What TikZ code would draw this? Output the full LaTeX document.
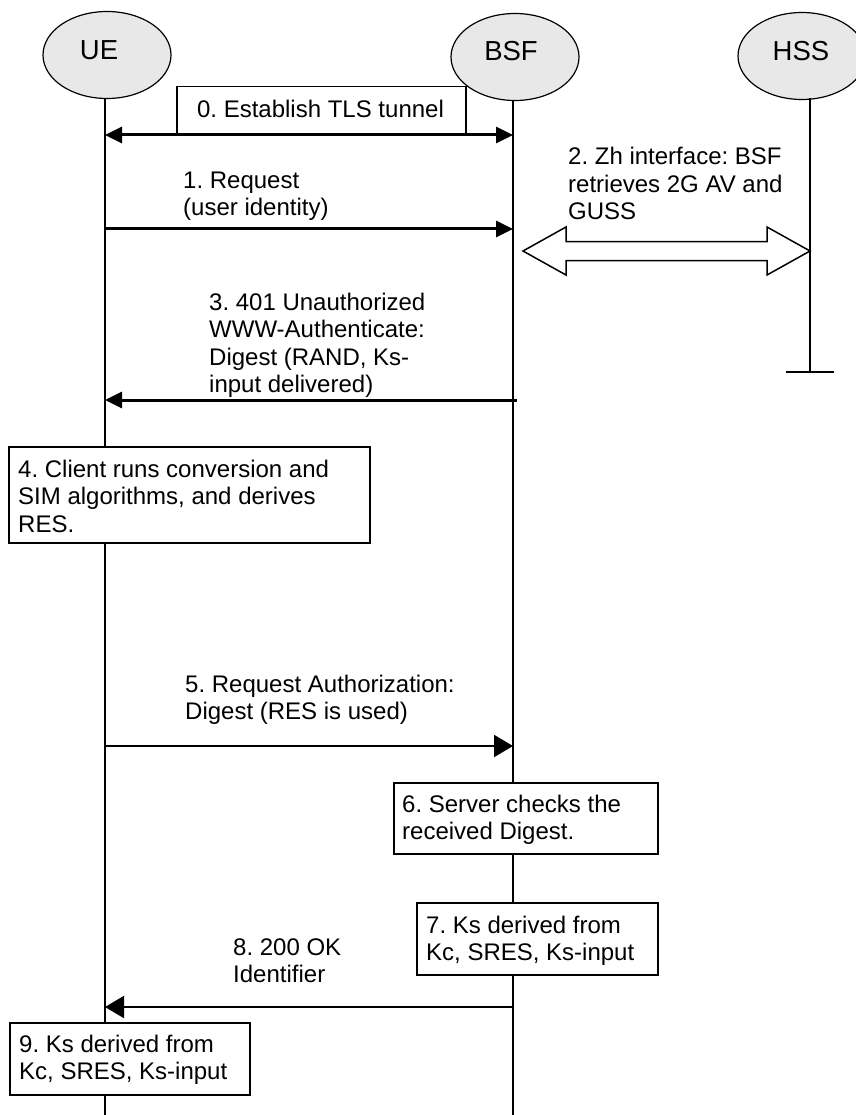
\documentclass[tikz,border=0pt]{standalone}
\usepackage{fontspec}
\setmainfont{Liberation Sans}
\usetikzlibrary{shapes.geometric,arrows.meta,calc}
\frenchspacing
\begin{document}
\begin{tikzpicture}[x=1pt,y=-1pt,
  actor/.style={ellipse,draw,line width=1.2pt,fill=black!9,minimum width=128pt,minimum height=87pt,inner sep=0pt},
  aname/.style={font=\fontsize{27.5}{30}\selectfont,inner sep=0pt},
  life/.style={line width=1.3pt},
  box/.style={draw,line width=1.5pt,fill=white,inner sep=0pt,anchor=north west},
  txt/.style={font=\fontsize{24}{27.5}\selectfont\frenchspacing,align=left,inner sep=0pt,anchor=base west},
  thickmsg/.style={line width=3pt,-{Triangle[length=17pt,width=16pt]}},
  thinmsg/.style={line width=2pt,-{Triangle[length=19pt,width=22pt]}},
  zharrow/.style={draw,line width=1.5pt,fill=white,line join=miter}
]
\useasboundingbox (0,0) rectangle (855,1115);

% actors
\node[actor] (ue) at (107,55) {};
\node[actor] (bsf) at (515,57) {};
\node[actor] (hss) at (802,56) {};
\node[aname] (uel) at (99,50) {UE};
\node[aname] (bsfl) at (511,51) {BSF};
\node[aname] (hssl) at (801,51) {HSS};

% lifeline ends
\coordinate (uetop) at (105,99);
\coordinate (bsftop) at (513,100);
\coordinate (hsstop) at (810,98);
\coordinate (ueend) at (105,1115);
\coordinate (bsfend) at (513,1115);
\coordinate (hssend) at (810,372);
\coordinate (teeL) at (786,372);
\coordinate (teeR) at (834,372);

\draw[life] (uetop) -- (ueend);
\draw[life] (bsftop) -- (bsfend);
\draw[life] (hsstop) -- (hssend);
\draw[life] (teeL) -- (teeR);

% 0. TLS tunnel
\node[box,minimum width=289pt,minimum height=49pt] (tls) at (176,86) {};
\node[txt,anchor=base] (t0) at (320.5,118) {0. Establish TLS tunnel};
\coordinate (m0a) at (105,135);
\coordinate (m0b) at (513,135);
\draw[line width=3pt,{Triangle[length=17pt,width=16pt]}-{Triangle[length=17pt,width=16pt]}] (m0a) -- (m0b);

% 1. Request
\node[txt] (t1) at (183,215.5) {1. Request\\(user identity)};
\coordinate (m1a) at (105,229);
\coordinate (m1b) at (513,229);
\draw[thickmsg] (m1a) -- (m1b);

% 2. Zh interface
\node[txt] (t2) at (568,220) {2. Zh interface: BSF\\retrieves 2G AV and\\GUSS};
\coordinate (zhL) at (523,251);
\coordinate (zhR) at (810,251);
\path[zharrow] (zhL) -- ($(zhL)+(43,-24)$) -- ($(zhL)+(43,-9.5)$) -- ($(zhR)+(-43,-9.5)$)
  -- ($(zhR)+(-43,-24)$) -- (zhR) -- ($(zhR)+(-43,24)$) -- ($(zhR)+(-43,9.5)$)
  -- ($(zhL)+(43,9.5)$) -- ($(zhL)+(43,24)$) -- cycle;

% 3. 401
\node[txt] (t3) at (209,392.5) {3. 401 Unauthorized\\WWW-Authenticate:\\Digest (RAND, Ks-\\input delivered)};
\coordinate (m3a) at (517,400);
\coordinate (m3b) at (105,400);
\draw[thickmsg] (m3a) -- (m3b);

% 4. Client box
\node[box,minimum width=361pt,minimum height=96pt] (b4) at (8,446) {};
\node[txt] (t4) at (18,532) {4. Client runs conversion and\\SIM algorithms, and derives\\RES.};

% 5. Request Authorization
\node[txt] (t5) at (185,719.5) {5. Request Authorization:\\Digest (RES is used)};
\coordinate (m5a) at (105,746);
\coordinate (m5b) at (513,746);
\draw[thinmsg] (m5a) -- (m5b);

% 6. Server checks
\node[box,minimum width=264pt,minimum height=71pt] (b6) at (393,782) {};
\node[txt] (t6) at (402,839.5) {6. Server checks the\\received Digest.};

% 7. Ks derived (BSF)
\node[box,minimum width=241pt,minimum height=72pt] (b7) at (416,902) {};
\node[txt] (t7) at (426,960.5) {7. Ks derived from\\Kc, SRES, Ks-input};

% 8. 200 OK
\node[txt] (t8) at (233,982.5) {8. 200 OK\\Identifier};
\coordinate (m8a) at (513,1007);
\coordinate (m8b) at (105,1007);
\draw[thinmsg] (m8a) -- (m8b);

% 9. Ks derived (UE)
\node[box,minimum width=240pt,minimum height=72pt] (b9) at (9,1022) {};
\node[txt] (t9) at (19,1079.5) {9. Ks derived from\\Kc, SRES, Ks-input};
\end{tikzpicture}
\end{document}
